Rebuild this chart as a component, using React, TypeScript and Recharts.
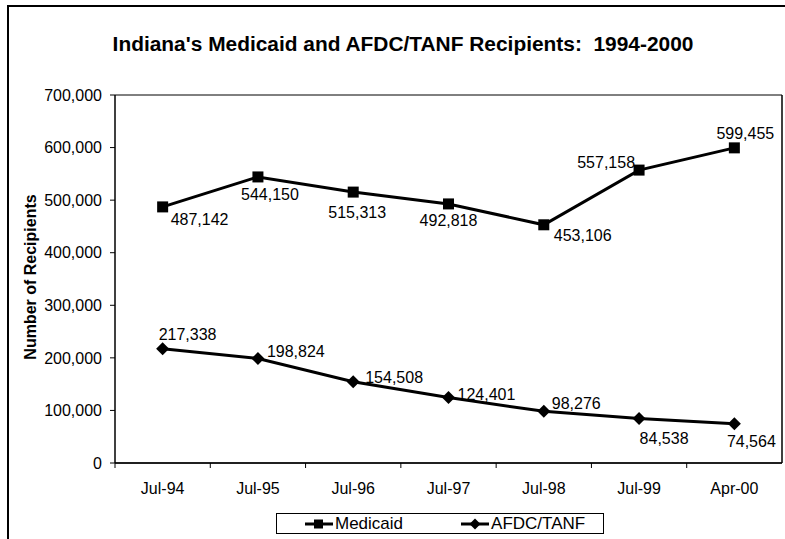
import { LineChart, Line, XAxis, YAxis, CartesianGrid, Legend, LabelList } from "recharts";

const months = ["Jul-94", "Jul-95", "Jul-96", "Jul-97", "Jul-98", "Jul-99", "Apr-00"];
const medicaid = [487142, 544150, 515313, 492818, 453106, 557158, 599455];
const afdcTanf = [217338, 198824, 154508, 124401, 98276, 84538, 74564];
const yTicks = [0, 100000, 200000, 300000, 400000, 500000, 600000, 700000];

// where each value label sits next to its point: [dx, dy, anchor]
const medicaidLabelPos: [number, number, string][] = [
    [8, 18, "start"], [12, 23, "middle"], [4, 26, "middle"], [0, 22, "middle"],
    [10, 16, "start"], [-4, -2, "end"], [11, -9, "middle"],
];
const afdcLabelPos: [number, number, string][] = [
    [-4, -9, "start"], [9, -1, "start"], [12, 1, "start"], [9, 2, "start"],
    [8, -2, "start"], [25, 25, "middle"], [17, 23, "middle"],
];

const data = months.map((m, i) => ({month: m, medicaid: medicaid[i], afdc: afdcTanf[i]}));

const FONT = "'Liberation Sans', Arial, sans-serif";
const fmt = (v: number) => v.toLocaleString("en-US");
const HALF_BAND = 667 / 7 / 2;

const SquareDot = (props: any) => {
    const {cx, cy} = props;
    return <rect x={cx - 5.5} y={cy - 5.5} width={11} height={11} fill="#000"/>;
};

const DiamondDot = (props: any) => {
    const {cx, cy} = props;
    return <path d={`M${cx},${cy - 6.5}L${cx + 6.5},${cy}L${cx},${cy + 6.5}L${cx - 6.5},${cy}Z`} fill="#000"/>;
};

const makeLabel = (pos: [number, number, string][]) => (props: any) => {
    const {x, y, value, index} = props;
    const [dx, dy, anchor] = pos[index];
    return <text x={x + dx} y={y + dy} textAnchor={anchor} fontSize={16} fontFamily={FONT} fill="#000">
        {fmt(value)}
    </text>;
};

const XTick = (props: any) => {
    const {x, y, payload} = props;
    const axisY = y - 6;
    return <g>
        <line x1={x - HALF_BAND} x2={x - HALF_BAND} y1={axisY} y2={axisY + 5} stroke="#000"/>
        <text x={x} y={y} dy={25} textAnchor="middle" fontSize={16} fontFamily={FONT} fill="#000">{payload.value}</text>
    </g>;
};

const LegendIcon = ({kind}: { kind: string }) => (
    <svg width={28} height={14} style={{display: "block"}}>
        <line x1={0} x2={28} y1={7} y2={7} stroke="#000" strokeWidth={3}/>
        {kind === "square"
            ? <rect x={9} y={2.5} width={9} height={9} fill="#000"/>
            : <path d="M14,1.5L19.5,7L14,12.5L8.5,7Z" fill="#000"/>}
    </svg>
);

const LegendBox = (props: any) => {
    const items = [...(props.payload || [])].sort((a: any, b: any) =>
        (a.dataKey === "medicaid" ? 0 : 1) - (b.dataKey === "medicaid" ? 0 : 1));
    return <div style={{
        width: 326, height: 19, border: "1px solid #000", display: "flex", alignItems: "center",
        fontFamily: FONT, fontSize: 17, background: "#fff", boxSizing: "content-box"
    }}>
        {items.map((it: any, i: number) => (
            <div key={i} style={{display: "flex", alignItems: "center", marginLeft: i === 0 ? 28 : 58}}>
                <LegendIcon kind={it.dataKey === "medicaid" ? "square" : "diamond"}/>
                <span style={{marginLeft: 2, lineHeight: "19px"}}>{it.value}</span>
            </div>
        ))}
    </div>;
};

export default function App() {
    return <div style={{position: "absolute", left: 0, top: 0, width: 785, height: 539, overflow: "hidden", background: "#fff"}}>
        <div style={{position: "absolute", left: 7, top: 5, width: 820, height: 600, border: "2px solid #000"}}/>
        <div style={{
            position: "absolute", left: 0, width: 806, top: 32, textAlign: "center", fontFamily: FONT,
            fontWeight: "bold", fontSize: 20.9, whiteSpace: "pre", color: "#000"
        }}>
            {"Indiana's Medicaid and AFDC/TANF Recipients:  1994-2000"}
        </div>
        <div style={{position: "absolute", left: 0, top: 0}}>
            <LineChart width={785} height={539} data={data} margin={{top: 95, right: 2, bottom: 0, left: 0}}>
                <CartesianGrid vertical={false} stroke="#000" strokeWidth={1}/>
                <XAxis dataKey="month" tickLine={false} axisLine={{stroke: "#000", strokeWidth: 1.5}}
                       padding={{left: HALF_BAND, right: HALF_BAND}}
                       tick={<XTick/>} tickMargin={0} height={55} interval={0}/>
                <YAxis yAxisId="left" domain={[0, 700000]} ticks={yTicks} tickFormatter={fmt} width={115}
                       tickSize={5} tickMargin={8} interval={0}
                       axisLine={{stroke: "#000", strokeWidth: 1.5}} tickLine={{stroke: "#000"}}
                       tick={{fill: "#000", fontSize: 16, fontFamily: FONT}}
                       label={{
                           content: (p: any) => {
                               const vb = p.viewBox || {x: 0, y: 95, height: 368};
                               return <text transform={`translate(${vb.x + 36},${vb.y + vb.height / 2 - 2}) rotate(-90)`}
                                            textAnchor="middle" fontSize={16} fontWeight="bold" fontFamily={FONT} fill="#000">
                                   Number of Recipients
                               </text>;
                           }
                       }}/>
                <YAxis yAxisId="right" orientation="right" width={1} tick={false} tickLine={false}
                       axisLine={{stroke: "#000", strokeWidth: 1.5}} domain={[0, 700000]} ticks={yTicks}/>
                <Legend layout="horizontal" verticalAlign="bottom" align="center" content={<LegendBox/>}
                        wrapperStyle={{position: "absolute", left: 276, top: 513, width: 328, height: 21, bottom: "auto"}}/>
                <Line yAxisId="left" type="linear" dataKey="medicaid" name="Medicaid" stroke="#000" strokeWidth={3}
                      dot={<SquareDot/>} activeDot={false} isAnimationActive={false}>
                    <LabelList dataKey="medicaid" content={makeLabel(medicaidLabelPos)}/>
                </Line>
                <Line yAxisId="left" type="linear" dataKey="afdc" name="AFDC/TANF" stroke="#000" strokeWidth={3}
                      dot={<DiamondDot/>} activeDot={false} isAnimationActive={false}>
                    <LabelList dataKey="afdc" content={makeLabel(afdcLabelPos)}/>
                </Line>
            </LineChart>
        </div>
    </div>;
}
